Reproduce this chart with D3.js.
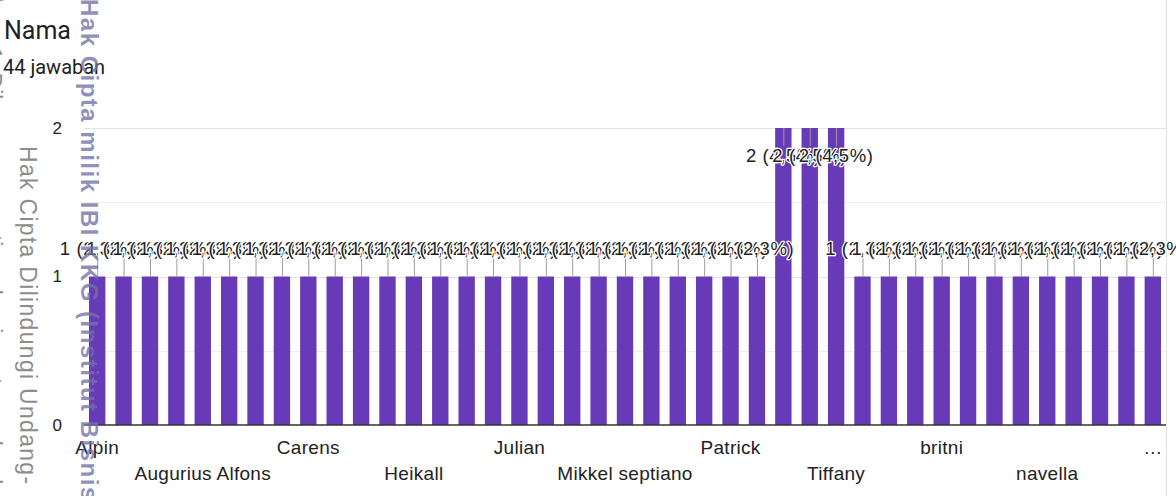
<!DOCTYPE html>
<html>
<head>
<meta charset="utf-8">
<script src="https://cdn.jsdelivr.net/npm/d3@7"></script>
<style>
  html, body { margin: 0; padding: 0; background: #fff; }
  svg { display: block; }
</style>
</head>
<body>
<div id="chart"></div>
<script>
// Respondent names (only every 4th one is readable on the axis)
const names = [
  "Alpin", "Andre", "Angel", "Anthony", "Augurius Alfons", "Bryan", "Calvin", "Caren",
  "Carens", "Daniel", "Felix", "Gabriel", "Heikall", "Hendra", "Jason", "Jessica",
  "Julian", "Kevin", "Michael", "Michelle", "Mikkel septiano", "Natalie", "Nicholas", "Olivia",
  "Patrick", "Rachel", "Stevan", "Steven", "Tiffany", "Vincent", "William", "Yosua",
  "britni", "celine", "david", "jessen", "navella", "rio", "sherly", "vania", "yohana"
];

// answers per name
const counts = [
  1, 1, 1, 1, 1, 1, 1, 1,
  1, 1, 1, 1, 1, 1, 1, 1,
  1, 1, 1, 1, 1, 1, 1, 1,
  1, 1, 2, 2, 2, 1, 1, 1,
  1, 1, 1, 1, 1, 1, 1, 1, 1
];

// what the x axis shows (every 4th category, last one truncated)
const tickLabels = ["Alpin", "Augurius Alfons", "Carens", "Heikall", "Julian",
  "Mikkel septiano", "Patrick", "Tiffany", "britni", "navella", "\u2026"];

const yTicks = [0, 1, 2];
const gridValues = [0.5, 1, 1.5, 2];

const title = "Nama";
const subtitle = "44 jawaban";

const total = d3.sum(counts);
const data = names.map((n, i) => ({ name: n, value: counts[i] }));

const W = 1176, H = 496;
const margin = { top: 128, right: 10, bottom: 71, left: 84 };

const svg = d3.select("#chart").append("svg")
  .attr("width", W)
  .attr("height", H);

// Title block
svg.append("text")
  .attr("x", 4)
  .attr("y", 38.5)
  .attr("font-family", "Roboto, Arial, sans-serif")
  .attr("font-size", 25)
  .attr("fill", "#202124")
  .text(title);

svg.append("text")
  .attr("x", 3)
  .attr("y", 73.5)
  .attr("font-family", "Roboto, Arial, sans-serif")
  .attr("font-size", 20)
  .attr("fill", "#202124")
  .text(subtitle);

// Scales
const x = d3.scaleBand()
  .domain(names)
  .range([margin.left, W - margin.right])
  .paddingInner(0.38)
  .paddingOuter(0.19);

const y = d3.scaleLinear()
  .domain([0, 2])
  .range([425, 128]);

// right border of the card
svg.append("line")
  .attr("x1", W - margin.right + 0.5)
  .attr("x2", W - margin.right + 0.5)
  .attr("y1", 0)
  .attr("y2", H)
  .attr("stroke", "#e3e3e3");

// Gridlines
svg.append("g")
  .selectAll("line")
  .data(gridValues)
  .join("line")
  .attr("x1", margin.left)
  .attr("x2", W - margin.right)
  .attr("y1", d => Math.round(y(d)) + 0.5)
  .attr("y2", d => Math.round(y(d)) + 0.5)
  .attr("stroke", d => Number.isInteger(d) ? "#e3e3e3" : "#eeeeee");

// Bars
svg.append("g")
  .selectAll("rect")
  .data(data)
  .join("rect")
  .attr("x", d => x(d.name))
  .attr("y", d => y(d.value))
  .attr("width", x.bandwidth())
  .attr("height", d => y(0) - y(d.value))
  .attr("fill", "#673ab7");

// Baseline
svg.append("line")
  .attr("x1", margin.left)
  .attr("x2", W - margin.right)
  .attr("y1", y(0))
  .attr("y2", y(0))
  .attr("stroke", "#333")
  .attr("stroke-width", 1.5);

// Y axis
const yAxis = svg.append("g")
  .attr("transform", `translate(${margin.left},0)`)
  .call(d3.axisLeft(y).tickValues(yTicks).tickFormat(d3.format("d")).tickSize(0).tickPadding(22));
yAxis.select(".domain").remove();
yAxis.selectAll("text")
  .attr("font-family", "'Liberation Sans', Arial, sans-serif")
  .attr("font-size", 17)
  .attr("fill", "#222");

// X axis, labels on two alternating rows
const shown = names.filter((d, i) => i % 4 === 0);
const xAxis = svg.append("g")
  .attr("transform", `translate(0,${y(0)})`)
  .call(d3.axisBottom(x).tickValues(shown).tickSize(0)
    .tickFormat(d => tickLabels[shown.indexOf(d)]));
xAxis.select(".domain").remove();
xAxis.selectAll("text")
  .attr("y", (d, i) => i % 2 ? 55 : 29)
  .attr("dy", 0)
  .attr("font-family", "'Liberation Sans', Arial, sans-serif")
  .attr("font-size", 19)
  .attr("letter-spacing", 0.3)
  .attr("fill", "#222");

// Annotations: the tallest bars get their label inside, below the top
const maxV = d3.max(counts);
const cx = d => x(d.name) + x.bandwidth() / 2;

svg.append("g")
  .selectAll("line")
  .data(data)
  .join("line")
  .attr("x1", d => cx(d) + 0.5)
  .attr("x2", d => cx(d) + 0.5)
  .attr("y1", d => d.value === maxV ? y(d.value) : y(d.value) - 19)
  .attr("y2", d => d.value === maxV ? y(d.value) + 18 : y(d.value))
  .attr("stroke", "#9e9e9e");

const fmtPct = v => (v / total * 100).toFixed(1).replace(".", ",");

svg.append("g")
  .selectAll("text")
  .data(data)
  .join("text")
  .attr("x", cx)
  .attr("y", d => d.value === maxV ? y(d.value) + 34 : y(d.value) - 22)
  .attr("text-anchor", "middle")
  .attr("font-family", "'Liberation Sans', Arial, sans-serif")
  .attr("font-size", 18.5)
  .attr("letter-spacing", 0.6)
  .attr("fill", "#222")
  .attr("stroke", "#fff")
  .attr("stroke-width", 2.5)
  .attr("stroke-linejoin", "round")
  .attr("paint-order", "stroke")
  .text(d => `${d.value} (${fmtPct(d.value)}%)`);

// Watermarks (scan overlay)
svg.append("text")
  .attr("transform", "translate(-15,-40) rotate(90)")
  .attr("font-family", "'Liberation Sans', Arial, sans-serif")
  .attr("font-size", 23)
  .attr("fill", "#8c8c8c")
  .text("Undang 1. Dilarang mengutip sebagian atau seluruh karya tulis ini");

svg.append("text")
  .attr("transform", "translate(20,146) rotate(90)")
  .attr("font-family", "'Liberation Sans', Arial, sans-serif")
  .attr("font-size", 23)
  .attr("letter-spacing", 1.3)
  .attr("fill", "#8c8c8c")
  .text("Hak Cipta Dilindungi Undang-");

svg.append("text")
  .attr("transform", "translate(81,-1) rotate(90)")
  .attr("font-family", "'Liberation Sans', Arial, sans-serif")
  .attr("font-weight", "bold")
  .attr("font-size", 24)
  .attr("letter-spacing", 1.5)
  .attr("fill", "#7272a8")
  .attr("fill-opacity", 0.78)
  .text("Hak Cipta milik IBI KKG (Institut Bisnis dan Informatika Kwik Kian Gie)");
</script>
</body>
</html>
